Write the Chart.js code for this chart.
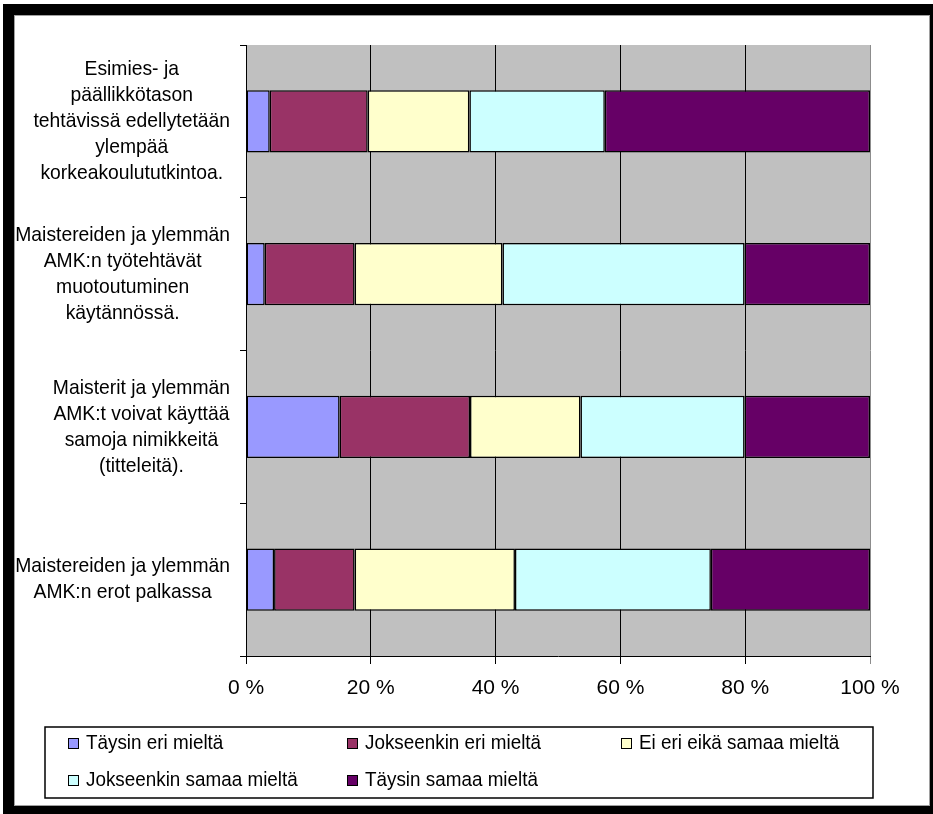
<!DOCTYPE html>
<html>
<head>
<meta charset="utf-8">
<script src="https://cdn.jsdelivr.net/npm/chart.js@4/dist/chart.umd.min.js"></script>
<style>
  html, body { margin: 0; padding: 0; background: #fff; }
  #frame { position: absolute; left: 3px; top: 4px; width: 930px; height: 810px; background: #000; }
  #sheet { position: absolute; left: 14px; top: 15px; width: 914px; height: 789px; background: #fff; border: 1px solid #a0a0a0; }
  #sheet canvas { position: absolute; left: 0; top: 0; }
</style>
</head>
<body>
<div id="frame"></div>
<div id="sheet"><canvas id="c" width="914" height="789"></canvas></div>
<script>
// Survey statements (one stacked bar each), top to bottom
const statements = [
  ["Esimies- ja", "päällikkötason", "tehtävissä edellytetään", "ylempää", "korkeakoulututkintoa."],
  ["Maistereiden ja ylemmän", "AMK:n työtehtävät", "muotoutuminen", "käytännössä."],
  ["Maisterit ja ylemmän", "AMK:t voivat käyttää", "samoja nimikkeitä", "(titteleitä)."],
  ["Maistereiden ja ylemmän", "AMK:n erot palkassa"]
];

// Answer categories
const answerLabels = [
  "Täysin eri mieltä",
  "Jokseenkin eri mieltä",
  "Ei eri eikä samaa mieltä",
  "Jokseenkin samaa mieltä",
  "Täysin samaa mieltä"
];

// Share of answers (%) per statement
const taysinEri      = [3.8, 3.0, 15.0, 4.5];
const jokseenkinEri  = [15.7, 14.4, 20.9, 12.9];
const eiEriEikaSamaa = [16.3, 23.7, 17.7, 25.7];
const jokseenkinSama = [21.7, 38.8, 26.3, 31.4];
const taysinSamaa    = [42.5, 20.1, 20.1, 25.5];

// Axis ticks
const percentTicks = [0, 20, 40, 60, 80, 100];

const seriesValues = [taysinEri, jokseenkinEri, eiEriEikaSamaa, jokseenkinSama, taysinSamaa];
const seriesColors = ["#9999FF", "#993366", "#FFFFCC", "#CCFFFF", "#660066"];

const FONT = "'Liberation Sans', Arial, sans-serif";
Chart.defaults.font.family = FONT;
Chart.defaults.color = "#000";

// Grey plot area behind the bars
const plotBackground = {
  id: "plotBackground",
  beforeDraw(chart) {
    const { ctx, chartArea: a } = chart;
    ctx.save();
    ctx.fillStyle = "#c0c0c0";
    ctx.fillRect(a.left, a.top, a.right - a.left, a.bottom - a.top);
    ctx.restore();
  }
};

// Category labels: each wrapped block right-aligned, lines centred inside the block.
// Text is drawn slightly condensed horizontally.
const blockLabels = {
  id: "blockLabels",
  afterDraw(chart) {
    const { ctx } = chart;
    const y = chart.scales.y;
    const lineH = 26;
    const sx = 0.92;
    ctx.save();
    ctx.font = "21px " + FONT;
    ctx.fillStyle = "#000";
    ctx.textAlign = "center";
    ctx.textBaseline = "middle";
    chart.data.labels.forEach((lines, i) => {
      const widest = Math.max(...lines.map(l => ctx.measureText(l).width)) * sx;
      const right = y.right - 16;
      const cx = right - widest / 2;
      const cy = y.getPixelForValue(i);
      const top = cy - (lines.length - 1) * lineH / 2;
      lines.forEach((l, k) => {
        ctx.save();
        ctx.translate(cx, top + k * lineH);
        ctx.scale(sx, 1);
        ctx.fillText(l, 0, 0);
        ctx.restore();
      });
    });
    ctx.restore();
  }
};

// Boxed legend laid out in three columns
const boxedLegend = {
  id: "boxedLegend",
  afterDraw(chart) {
    const { ctx } = chart;
    const box = { left: 30, top: 711, right: 858, bottom: 782 };
    const cols = [53, 332, 606];
    const rows = [727, 764];
    const sx = 0.92;
    ctx.save();
    ctx.strokeStyle = "#000";
    ctx.lineWidth = 1.5;
    ctx.strokeRect(box.left, box.top, box.right - box.left, box.bottom - box.top);
    ctx.font = "20.5px " + FONT;
    ctx.textBaseline = "middle";
    ctx.textAlign = "left";
    chart.data.datasets.forEach((ds, i) => {
      const x = cols[i % 3];
      const yy = rows[Math.floor(i / 3)];
      ctx.fillStyle = ds.backgroundColor;
      ctx.fillRect(x, yy - 5, 10, 10);
      ctx.lineWidth = 1;
      ctx.strokeStyle = "#000";
      ctx.strokeRect(x + 0.5, yy - 4.5, 10, 10);
      ctx.fillStyle = "#000";
      ctx.save();
      ctx.translate(x + 18, yy);
      ctx.scale(sx, 1);
      ctx.fillText(ds.label, 0, 0);
      ctx.restore();
    });
    ctx.restore();
  }
};

new Chart(document.getElementById("c"), {
  type: "bar",
  data: {
    labels: statements,
    datasets: answerLabels.map((label, i) => ({
      label,
      data: seriesValues[i],
      backgroundColor: seriesColors[i],
      borderColor: "#000",
      borderWidth: 1.5,
      borderSkipped: false,
      categoryPercentage: 1,
      barPercentage: 0.406
    }))
  },
  options: {
    indexAxis: "y",
    responsive: false,
    devicePixelRatio: 1,
    animation: false,
    layout: { padding: { top: 29, right: 59, bottom: 99, left: 0 } },
    plugins: {
      legend: { display: false },
      tooltip: { enabled: false }
    },
    scales: {
      x: {
        stacked: true,
        min: 0,
        max: 100,
        afterBuildTicks: s => { s.ticks = percentTicks.map(v => ({ value: v })); },
        ticks: {
          callback: v => v + " %",
          color: "#000",
          font: { size: 21 },
          padding: 12,
          maxRotation: 0
        },
        grid: {
          color: c => (c.tick && c.tick.value === 100 ? "#8c8c8c" : "#000"),
          lineWidth: 1,
          tickLength: 8
        },
        border: { color: "#000", width: 1 },
        afterFit: s => { s.height = 50; }
      },
      y: {
        stacked: true,
        ticks: { display: false },
        grid: { drawOnChartArea: false, color: "#000", tickLength: 6, offset: true },
        border: { color: "#000", width: 1 },
        afterFit: s => { s.width = 231; }
      }
    }
  },
  plugins: [plotBackground, blockLabels, boxedLegend]
});
</script>
</body>
</html>
